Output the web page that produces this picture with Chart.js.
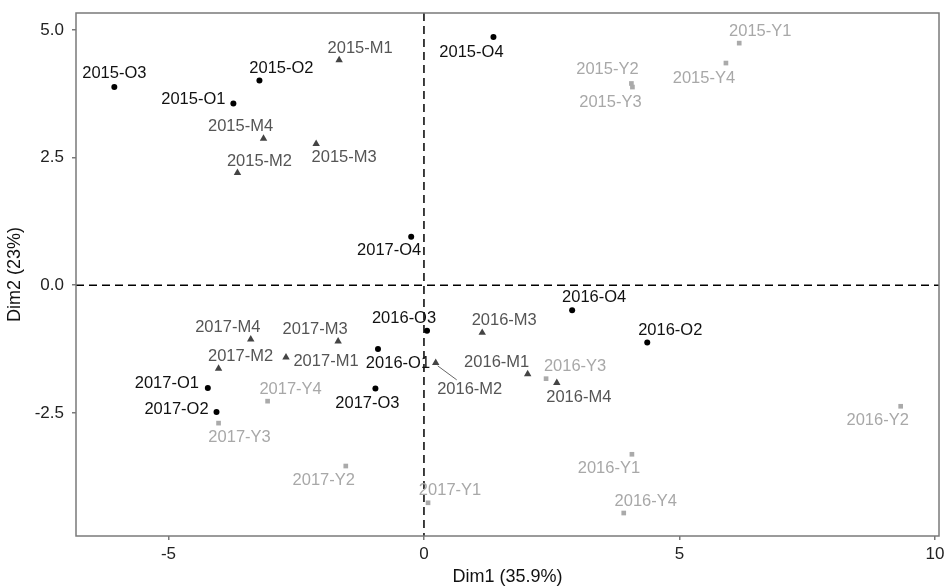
<!DOCTYPE html>
<html>
<head>
<meta charset="utf-8">
<script src="https://cdn.jsdelivr.net/npm/chart.js@4/dist/chart.umd.min.js"></script>
<style>
  html, body { margin: 0; padding: 0; background: #fff; }
  #wrap { width: 946px; height: 588px; }
</style>
</head>
<body>
<div id="wrap"><canvas id="pca" width="946" height="588"></canvas></div>
<script>
// Nhóm O
const oNames = ['2015-O1', '2015-O2', '2015-O3', '2015-O4', '2016-O1', '2016-O2', '2016-O3', '2016-O4', '2017-O1', '2017-O2', '2017-O3', '2017-O4'];
const oX = [-3.73, -3.22, -6.06, 1.36, -0.90, 4.37, 0.06, 2.90, -4.23, -4.06, -0.95, -0.25];
const oY = [3.56, 4.01, 3.88, 4.86, -1.25, -1.12, -0.89, -0.49, -2.01, -2.48, -2.02, 0.95];

// Nhóm M
const mNames = ['2015-M1', '2015-M2', '2015-M3', '2015-M4', '2016-M1', '2016-M2', '2016-M3', '2016-M4', '2017-M1', '2017-M2', '2017-M3', '2017-M4'];
const mX = [-1.66, -3.65, -2.11, -3.14, 2.03, 0.23, 1.14, 2.60, -2.70, -4.02, -1.68, -3.39];
const mY = [4.41, 2.20, 2.77, 2.87, -1.74, -1.52, -0.93, -1.91, -1.41, -1.63, -1.10, -1.06];

// Nhóm Y
const yNames = ['2015-Y1', '2015-Y2', '2015-Y3', '2015-Y4', '2016-Y1', '2016-Y2', '2016-Y3', '2016-Y4', '2017-Y1', '2017-Y2', '2017-Y3', '2017-Y4'];
const yX = [6.17, 4.06, 4.08, 5.91, 4.07, 9.33, 2.39, 3.91, 0.08, -1.53, -4.02, -3.06];
const yY = [4.74, 3.95, 3.88, 4.35, -3.31, -2.37, -1.83, -4.46, -4.26, -3.54, -2.70, -2.27];

const xTicks = [-5, 0, 5, 10];
const yTicks = [-2.5, 0, 2.5, 5];

// vị trí nhãn so với điểm (px)
const labelOffsets = {
    '2015-O1': [-40, -4], '2015-O2': [22, -12], '2015-O3': [0, -14], '2015-O4': [-22, 15],
    '2016-O1': [20, 14], '2016-O2': [23, -12], '2016-O3': [-23, -12], '2016-O4': [22, -13],
    '2017-O1': [-41, -4], '2017-O2': [-40, -2], '2017-O3': [-8, 15], '2017-O4': [-22, 14],
    '2015-M1': [21, -12], '2015-M2': [22, -11], '2015-M3': [28, 14], '2015-M4': [-23, -12],
    '2016-M1': [-31, -12], '2016-M2': [34, 27], '2016-M3': [22, -12], '2016-M4': [22, 15],
    '2017-M1': [40, 4], '2017-M2': [22, -12], '2017-M3': [-23, -12], '2017-M4': [-23, -12],
    '2015-Y1': [21, -12], '2015-Y2': [-24, -14], '2015-Y3': [-22, 15], '2015-Y4': [-22, 15],
    '2016-Y1': [-23, 14], '2016-Y2': [-23, 14], '2016-Y3': [29, -12], '2016-Y4': [22, -12],
    '2017-Y1': [22, -12], '2017-Y2': [-22, 14], '2017-Y3': [21, 14], '2017-Y4': [23, -12]
};

function toPoints(xs, ys) {
    return xs.map((x, i) => ({ x: x, y: ys[i] }));
}

const FONT = '"Liberation Sans", Arial, sans-serif';

// Vẽ khung, đường đứt nét và nhãn
const annotPlugin = {
    id: 'annot',
    beforeDatasetsDraw(chart) {
        const ctx = chart.ctx;
        const a = chart.chartArea;
        const x0 = chart.scales.x.getPixelForValue(0);
        const y0 = chart.scales.y.getPixelForValue(0);
        ctx.save();
        ctx.strokeStyle = '#000';
        ctx.lineWidth = 1.5;
        ctx.setLineDash([8, 5]);
        ctx.beginPath();
        ctx.moveTo(x0, a.top);
        ctx.lineTo(x0, a.bottom);
        ctx.moveTo(a.left, y0);
        ctx.lineTo(a.right, y0);
        ctx.stroke();
        ctx.setLineDash([]);
        ctx.strokeStyle = '#7a7a7a';
        ctx.lineWidth = 1.5;
        ctx.strokeRect(a.left, a.top, a.right - a.left, a.bottom - a.top);
        ctx.restore();
    },
    afterDatasetsDraw(chart) {
        const ctx = chart.ctx;
        ctx.save();
        ctx.font = '16.5px ' + FONT;
        ctx.textAlign = 'center';
        ctx.textBaseline = 'middle';
        chart.data.datasets.forEach((ds, di) => {
            const meta = chart.getDatasetMeta(di);
            ds.names.forEach((name, i) => {
                const el = meta.data[i];
                const off = labelOffsets[name] || [0, -12];
                if (name === '2016-M2') {
                    ctx.strokeStyle = '#666';
                    ctx.lineWidth = 1;
                    ctx.beginPath();
                    ctx.moveTo(el.x + 2, el.y + 3);
                    ctx.lineTo(el.x + 21, el.y + 17);
                    ctx.stroke();
                }
                ctx.fillStyle = ds.labelColor;
                ctx.fillText(name, el.x + off[0], el.y + off[1]);
            });
        });
        ctx.restore();
    }
};

new Chart(document.getElementById('pca').getContext('2d'), {
    type: 'scatter',
    data: {
        datasets: [
            {
                label: 'O', names: oNames, labelColor: '#111111',
                data: toPoints(oX, oY),
                pointStyle: 'circle', pointRadius: 3,
                backgroundColor: '#000', borderColor: '#000', borderWidth: 0
            },
            {
                label: 'M', names: mNames, labelColor: '#555555',
                data: toPoints(mX, mY),
                pointStyle: 'triangle', pointRadius: 4.3,
                backgroundColor: '#444', borderColor: '#444', borderWidth: 0
            },
            {
                label: 'Y', names: yNames, labelColor: '#a8a8a8',
                data: toPoints(yX, yY),
                pointStyle: 'rect', pointRadius: 3.3,
                backgroundColor: '#aaaaaa', borderColor: '#aaaaaa', borderWidth: 0
            }
        ]
    },
    options: {
        responsive: false,
        animation: false,
        layout: { padding: { top: 13, right: 7, left: 0, bottom: 0 } },
        plugins: {
            legend: { display: false },
            tooltip: { enabled: false }
        },
        scales: {
            x: {
                type: 'linear',
                min: -6.81, max: 10.08,
                afterFit: (s) => { s.height = 52; s.paddingLeft = 0; s.paddingRight = 0; },
                afterBuildTicks: (s) => { s.ticks = xTicks.map(v => ({ value: v })); },
                ticks: { font: { size: 17, family: FONT }, color: '#222', padding: 4 },
                grid: { drawOnChartArea: false, drawTicks: true, tickLength: 4, color: '#7a7a7a', lineWidth: 1.5 },
                border: { display: false },
                title: { display: true, text: 'Dim1 (35.9%)', font: { size: 18, family: FONT }, color: '#111', padding: { top: 0, bottom: 0 } }
            },
            y: {
                type: 'linear',
                min: -4.91, max: 5.33,
                afterFit: (s) => { s.width = 76; s.paddingTop = 0; s.paddingBottom = 0; },
                afterBuildTicks: (s) => { s.ticks = yTicks.map(v => ({ value: v })); },
                ticks: { font: { size: 17, family: FONT }, color: '#222', padding: 8, callback: (v) => v.toFixed(1) },
                grid: { drawOnChartArea: false, drawTicks: true, tickLength: 4, color: '#7a7a7a', lineWidth: 1.5 },
                border: { display: false },
                title: { display: true, text: 'Dim2 (23%)', font: { size: 18, family: FONT }, color: '#111', padding: { top: 4, bottom: 0 } }
            }
        }
    },
    plugins: [annotPlugin]
});
</script>
</body>
</html>
